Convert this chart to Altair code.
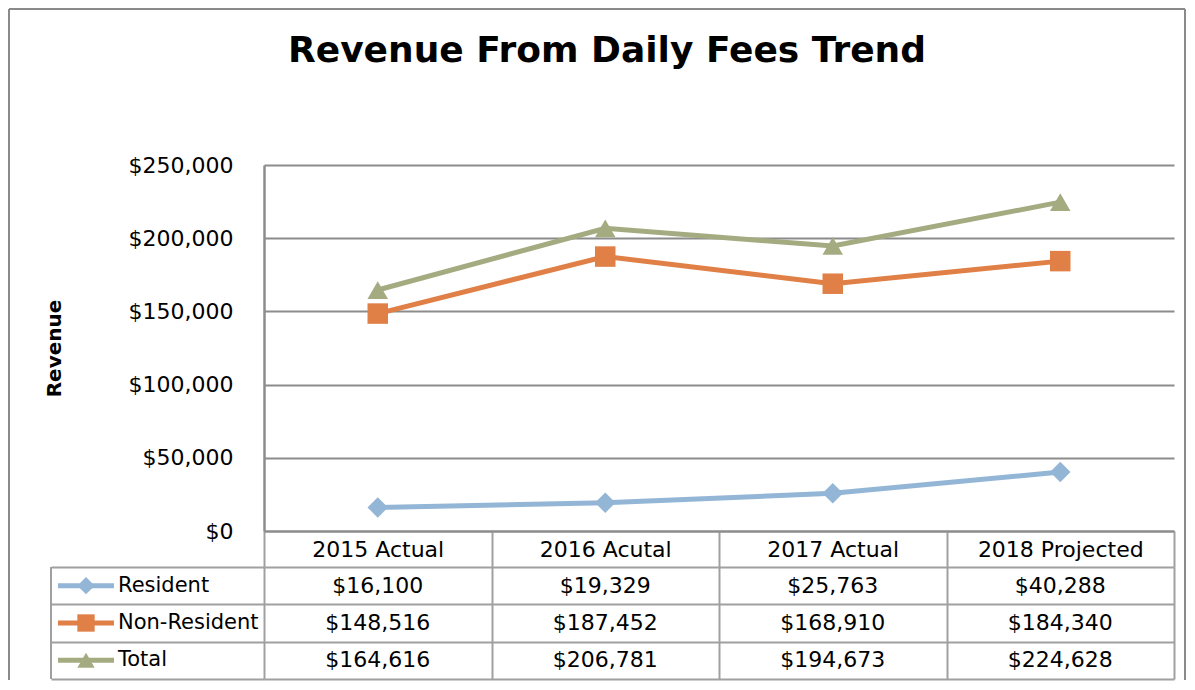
import altair as alt
import pandas as pd

categories = ["2015 Actual", "2016 Acutal", "2017 Actual", "2018 Projected"]
series = ["Resident", "Non-Resident", "Total"]
resident = [16100, 19329, 25763, 40288]
non_resident = [148516, 187452, 168910, 184340]
total = [164616, 206781, 194673, 224628]
y_ticks = [0, 50000, 100000, 150000, 200000, 250000]
colors = ["#94b6d6", "#e07f46", "#a5ab81"]
shapes = ["diamond", "square", "triangle-up"]

rows = []
for s, vals in zip(series, [resident, non_resident, total]):
    for c, v in zip(categories, vals):
        rows.append({"category": c, "series": s, "value": v, "label": f"${v:,.0f}"})
df = pd.DataFrame(rows)
legend_df = pd.DataFrame({"series": series})

FONT = "DejaVu Sans"
GRID = "#8c8c8c"
TGRID = "#a0a0a0"
W = 910
H = 366
TH = 112

color_scale = alt.Scale(domain=series, range=colors)
shape_scale = alt.Scale(domain=series, range=shapes)

base = alt.Chart(df).encode(
    x=alt.X(
        "category:N",
        sort=categories,
        scale=alt.Scale(type="band", domain=categories, paddingInner=0, paddingOuter=0),
        axis=alt.Axis(
            title=None, labelAngle=0, labelFont=FONT, labelFontSize=22, labelColor="black",
            labelBaseline="middle", labelPadding=-18, ticks=True, tickBand="extent",
            tickSize=36, tickColor=TGRID, tickWidth=2, domainColor=GRID, domainWidth=2,
            grid=False,
        ),
    ),
    y=alt.Y(
        "value:Q",
        scale=alt.Scale(domain=[0, 250000]),
        axis=alt.Axis(
            title="Revenue", titleFont=FONT, titleFontSize=20, titleFontWeight="bold",
            titleColor="black", titlePadding=64, values=y_ticks, format="$,.0f",
            labelFont=FONT, labelFontSize=22, labelColor="black", labelPadding=31,
            ticks=False, domainColor=GRID, domainWidth=2.5, gridColor=GRID,
            gridWidth=2, gridOpacity=1,
        ),
    ),
    color=alt.Color("series:N", scale=color_scale, legend=None),
)

lines = base.mark_line(strokeWidth=5)
points = base.mark_point(filled=True, opacity=1, size=420).encode(
    shape=alt.Shape("series:N", scale=shape_scale, legend=None)
)

top = alt.layer(lines, points).properties(
    width=W,
    height=H,
    title=alt.Title(
        "Revenue From Daily Fees Trend", font=FONT, fontSize=36, fontWeight="bold",
        color="black", anchor="middle", frame="group", dx=-112, offset=56,
        baseline="alphabetic",
    ),
)

tx = alt.X(
    "category:N",
    sort=categories,
    scale=alt.Scale(type="band", domain=categories, paddingInner=0, paddingOuter=0),
    axis=alt.Axis(title=None, labels=False, ticks=False, domain=False, grid=True,
                  tickBand="extent", gridColor=TGRID, gridWidth=2, gridOpacity=1),
)
ty = alt.Y(
    "series:N",
    sort=series,
    scale=alt.Scale(type="band", domain=series, paddingInner=0, paddingOuter=0),
    axis=alt.Axis(title=None, labels=False, domain=False, ticks=True, tickSize=213,
                  tickBand="extent", tickColor=TGRID, tickWidth=2, grid=True,
                  gridColor=TGRID, gridWidth=2, gridOpacity=1),
)

cells = alt.Chart(df).mark_text(font=FONT, fontSize=22, color="black").encode(
    x=tx, y=ty, text="label:N"
)

key_line = alt.Chart(legend_df).mark_point(
    shape="M-1,0H1", filled=False, strokeWidth=5, size=56 * 56, opacity=1
).encode(x=alt.value(-178), y=ty, color=alt.Color("series:N", scale=color_scale, legend=None))

key_mark = alt.Chart(legend_df).mark_point(filled=True, size=300, opacity=1).encode(
    x=alt.value(-178), y=ty,
    color=alt.Color("series:N", scale=color_scale, legend=None),
    shape=alt.Shape("series:N", scale=shape_scale, legend=None),
)

key_text = alt.Chart(legend_df).mark_text(
    align="left", font=FONT, fontSize=21, color="black"
).encode(x=alt.value(-146), y=ty, text="series:N")

left_border = alt.Chart(legend_df).mark_rule(color=TGRID, strokeWidth=2).encode(
    x=alt.value(-213), y=alt.value(0), y2=alt.value(TH)
)

frame_left = alt.Chart(legend_df).mark_rule(color="#8a8a8a", strokeWidth=2).encode(
    x=alt.value(-255), y=alt.value(-558), y2=alt.value(TH + 1)
)
frame_top = alt.Chart(legend_df).mark_rule(color="#8a8a8a", strokeWidth=2).encode(
    x=alt.value(-255), x2=alt.value(921), y=alt.value(-558)
)
frame_right = alt.Chart(legend_df).mark_rule(color="#8a8a8a", strokeWidth=2).encode(
    x=alt.value(921), y=alt.value(-558), y2=alt.value(TH + 1)
)

table = alt.layer(
    cells, left_border, key_line, key_mark, key_text, frame_left, frame_top, frame_right
).properties(width=W, height=TH)

chart = (
    alt.vconcat(top, table, spacing=36, bounds="flush")
    .properties(padding=0, background="white")
    .configure_view(stroke=None)
)

chart.save("out.html", embed_options={"renderer": "svg", "actions": False})
